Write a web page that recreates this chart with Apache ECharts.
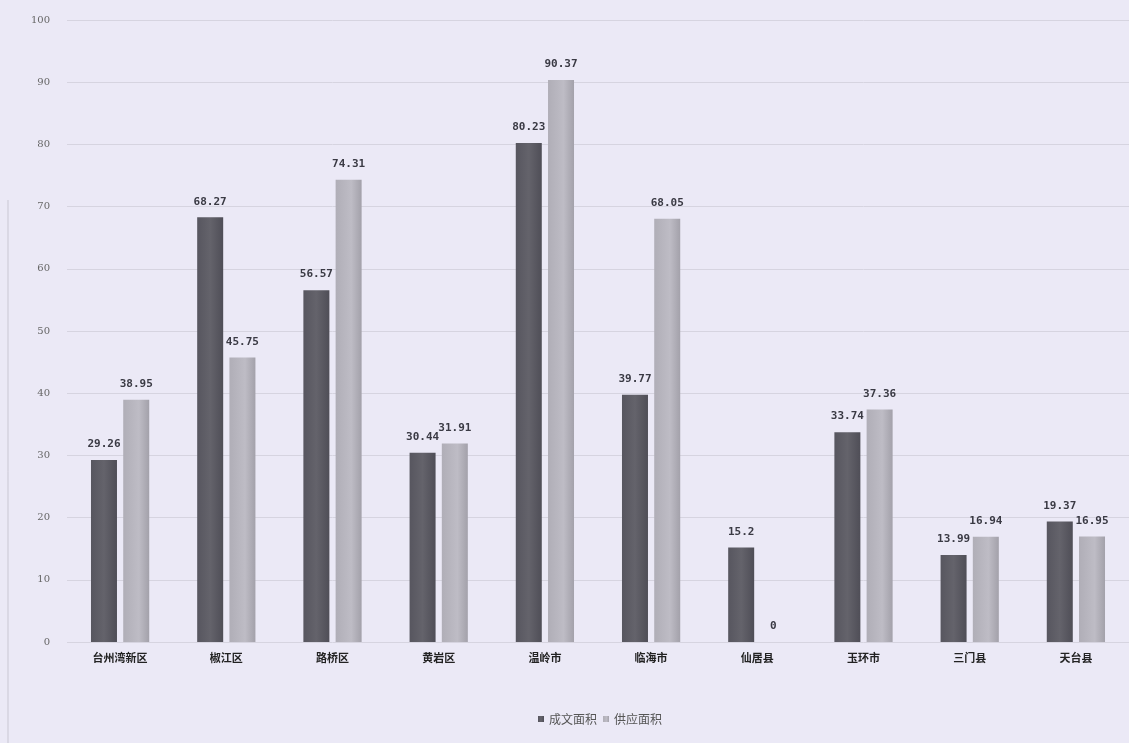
<!DOCTYPE html>
<html>
<head>
<meta charset="utf-8">
<script src="https://cdn.jsdelivr.net/npm/echarts@6/dist/echarts.min.js"></script>
<style>
  html, body { margin: 0; padding: 0; background: #ebe9f6; }
  #chart { width: 1129px; height: 743px; }
</style>
</head>
<body>
<div id="chart"></div>
<script>
// 各区县名称
const categories = ['台州湾新区', '椒江区', '路桥区', '黄岩区', '温岭市', '临海市', '仙居县', '玉环市', '三门县', '天台县'];
// 成文面积
const dealArea = [29.26, 68.27, 56.57, 30.44, 80.23, 39.77, 15.2, 33.74, 13.99, 19.37];
// 供应面积
const supplyArea = [38.95, 45.75, 74.31, 31.91, 90.37, 68.05, 0, 37.36, 16.94, 16.95];
const seriesNames = ['成文面积', '供应面积'];

const chart = echarts.init(document.getElementById('chart'));

const labelStyle = {
  show: true,
  position: 'top',
  distance: 10,
  color: '#3a3a44',
  fontSize: 11,
  fontWeight: 'bold',
  fontFamily: '"DejaVu Sans Mono", monospace'
};

chart.setOption({
  backgroundColor: '#ebe9f6',
  animation: false,
  grid: { left: 67, right: -5, top: 20, bottom: 101, containLabel: false },
  legend: {
    bottom: 13,
    left: 533,
    itemWidth: 6,
    itemHeight: 6,
    itemGap: 6,
    icon: 'rect',
    textStyle: { color: '#555', fontSize: 12, fontFamily: '"Noto Sans CJK SC"' },
    data: seriesNames
  },
  xAxis: {
    type: 'category',
    data: categories,
    axisLine: { show: false },
    axisTick: { show: false },
    axisLabel: {
      color: '#222',
      fontSize: 11,
      fontWeight: 'bold',
      margin: 10,
      fontFamily: '"Noto Sans CJK SC"'
    }
  },
  yAxis: {
    type: 'value',
    min: 0,
    max: 100,
    interval: 10,
    axisLine: { show: false },
    axisTick: { show: false },
    axisLabel: {
      color: '#666',
      fontSize: 10,
      margin: 17,
      fontFamily: '"DejaVu Serif", serif'
    },
    splitLine: { lineStyle: { color: '#d6d4e0', width: 1 } }
  },
  graphic: [
    {
      type: 'line',
      shape: { x1: 8, y1: 200, x2: 8, y2: 743 },
      style: { stroke: '#c9c7d3', lineWidth: 1 },
      silent: true
    }
  ],
  series: [
    {
      name: seriesNames[0],
      type: 'bar',
      data: dealArea,
      barWidth: 26,
      barGap: '24%',
      itemStyle: {
        color: new echarts.graphic.LinearGradient(0, 0, 1, 0, [
          { offset: 0, color: '#57565f' },
          { offset: 0.5, color: '#64636b' },
          { offset: 1, color: '#4f4e57' }
        ])
      },
      label: labelStyle
    },
    {
      name: seriesNames[1],
      type: 'bar',
      data: supplyArea,
      barWidth: 26,
      itemStyle: {
        color: new echarts.graphic.LinearGradient(0, 0, 1, 0, [
          { offset: 0, color: '#b0aeb7' },
          { offset: 0.6, color: '#bebcc5' },
          { offset: 1, color: '#a3a1aa' }
        ])
      },
      label: labelStyle
    }
  ],
  color: ['#5a5962', '#b5b3bc']
});
</script>
</body>
</html>
